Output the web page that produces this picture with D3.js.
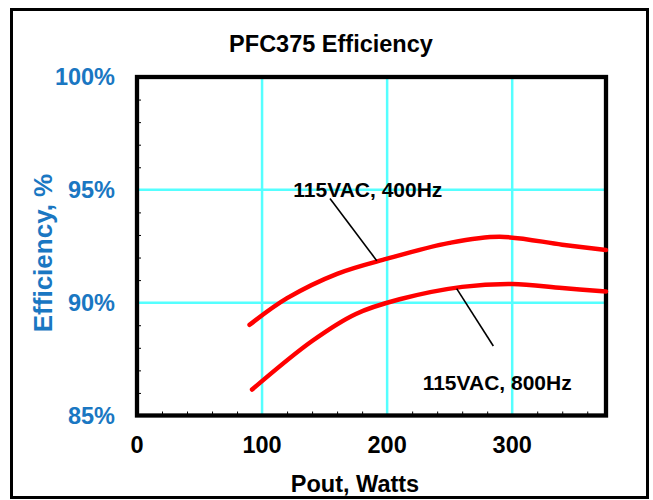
<!DOCTYPE html>
<html lang="en">
  <head>
    <meta charset="utf-8">
    <title>PFC375 Efficiency</title>
    <script src="https://cdn.jsdelivr.net/npm/d3@7"></script>
    <style>
      body { margin: 0; background: #fff; }
      text {
        font-family: "Liberation Sans", Arial, sans-serif;
        font-weight: bold;
      }
      .blue { fill: #1a77c2; }
    </style>
  </head>
  <body>
    <script>
      // readings: output power (W) vs efficiency (%)
      var pout400 = [90, 120, 160, 200, 250, 290, 340, 375];
      var eff400  = [89.02, 90.2, 91.28, 91.95, 92.65, 92.92, 92.57, 92.33];

      var pout800 = [92, 140, 175, 210, 260, 300, 340, 375];
      var eff800  = [86.15, 88.3, 89.5, 90.15, 90.7, 90.83, 90.65, 90.49];

      var xTicks = [0, 100, 200, 300];
      var yTicks = [85, 90, 95, 100];
      var xGrid = [100, 200, 300];
      var yGrid = [90, 95];

      // annotation labels: [text, label x, label y, leader from x,y, leader to x,y] in data units
      var notes = [
        ["115VAC, 400Hz", 125, 94.7, 154.3, 94.62, 191.7, 91.86],
        ["115VAC, 800Hz", 228.4, 86.13, 255.6, 90.62, 284.9, 88.08]
      ];

      var w = 653, h = 500;
      var plotL = 137, plotR = 606, plotT = 77, plotB = 415.5;

      var svg = d3.select("body").append("svg")
                  .attr("width", w)
                  .attr("height", h);

      // outer frame
      svg.append("rect")
         .attr("x", 11.5).attr("y", 9.5)
         .attr("width", 636).attr("height", 488)
         .attr("fill", "none")
         .attr("stroke", "#000")
         .attr("stroke-width", 3);

      var xScale = d3.scaleLinear().domain([0, 375]).range([plotL, plotR]);
      var yScale = d3.scaleLinear().domain([85, 100]).range([plotB, plotT]);

      // grid
      svg.append("g").selectAll("line")
         .data(xGrid).enter().append("line")
         .attr("x1", function(d) { return xScale(d); })
         .attr("x2", function(d) { return xScale(d); })
         .attr("y1", plotT).attr("y2", plotB)
         .attr("stroke", "#55ffff").attr("stroke-width", 2.5);
      svg.append("g").selectAll("line")
         .data(yGrid).enter().append("line")
         .attr("y1", function(d) { return yScale(d); })
         .attr("y2", function(d) { return yScale(d); })
         .attr("x1", plotL).attr("x2", plotR)
         .attr("stroke", "#55ffff").attr("stroke-width", 2.5);

      // inward minor ticks
      var xMinor = d3.range(20, 375, 20).filter(function(d) { return d % 100 != 0; });
      var yMinor = d3.range(86, 100, 1).filter(function(d) { return d % 5 != 0; });

      svg.append("g")
         .attr("transform", "translate(0," + plotB + ")")
         .call(d3.axisTop(xScale).tickValues(xMinor).tickSize(4).tickFormat(""))
         .call(function(g) { g.select(".domain").remove(); });
      svg.append("g")
         .attr("transform", "translate(" + plotL + ",0)")
         .call(d3.axisRight(yScale).tickValues(yMinor).tickSize(4).tickFormat(""))
         .call(function(g) { g.select(".domain").remove(); });

      // plot box
      svg.append("rect")
         .attr("x", plotL).attr("y", plotT)
         .attr("width", plotR - plotL).attr("height", plotB - plotT)
         .attr("fill", "none")
         .attr("stroke", "#000")
         .attr("stroke-width", 4.3);

      // tick labels
      svg.append("g").selectAll("text")
         .data(xTicks).enter().append("text")
         .attr("x", function(d) { return xScale(d); })
         .attr("y", 453)
         .attr("text-anchor", "middle")
         .attr("font-size", "23.5px")
         .text(function(d) { return d; });

      svg.append("g").selectAll("text")
         .data(yTicks).enter().append("text")
         .attr("class", "blue")
         .attr("x", 115)
         .attr("y", function(d) { return yScale(d) + 8; })
         .attr("text-anchor", "end")
         .attr("font-size", "23.5px")
         .text(function(d) { return d + "%"; });

      // titles
      svg.append("text")
         .attr("x", 331).attr("y", 52)
         .attr("text-anchor", "middle")
         .attr("font-size", "23.5px")
         .text("PFC375 Efficiency");

      svg.append("text")
         .attr("x", 355).attr("y", 491.5)
         .attr("text-anchor", "middle")
         .attr("font-size", "23.5px")
         .text("Pout, Watts");

      svg.append("text")
         .attr("class", "blue")
         .attr("transform", "translate(51.5,253) rotate(-90)")
         .attr("text-anchor", "middle")
         .attr("font-size", "26px")
         .text("Efficiency, %");

      // curves
      var line = d3.line()
                   .x(function(d) { return xScale(d[0]); })
                   .y(function(d) { return yScale(d[1]); })
                   .curve(d3.curveCatmullRom.alpha(0.5));

      [[pout400, eff400], [pout800, eff800]].forEach(function(s) {
        svg.append("path")
           .datum(d3.zip(s[0], s[1]))
           .attr("d", line)
           .attr("fill", "none")
           .attr("stroke", "#ff0000")
           .attr("stroke-width", 4.5)
           .attr("stroke-linecap", "round");
      });

      // annotations
      var ann = svg.append("g").selectAll("g")
                   .data(notes).enter().append("g");
      ann.append("line")
         .attr("x1", function(d) { return xScale(d[3]); })
         .attr("y1", function(d) { return yScale(d[4]); })
         .attr("x2", function(d) { return xScale(d[5]); })
         .attr("y2", function(d) { return yScale(d[6]); })
         .attr("stroke", "#000")
         .attr("stroke-width", 1.6);
      ann.append("text")
         .attr("x", function(d) { return xScale(d[1]); })
         .attr("y", function(d) { return yScale(d[2]); })
         .attr("font-size", "21px")
         .text(function(d) { return d[0]; });
    </script>
  </body>
</html>
